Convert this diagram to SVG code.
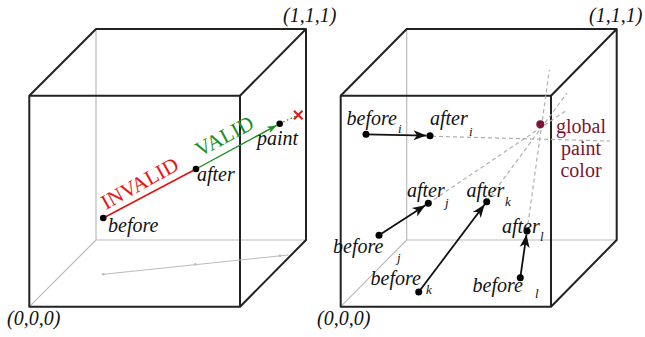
<svg xmlns="http://www.w3.org/2000/svg" width="645" height="337" viewBox="0 0 645 337">
<defs>
<style>
.edge{stroke:#222;stroke-width:2;fill:none;stroke-linejoin:round}
.hid{stroke:#bbb;stroke-width:1.2;fill:none}
.lbl{font-family:"Liberation Serif",serif;font-style:italic;font-size:20px;fill:#111}
.sub{font-family:"Liberation Serif",serif;font-style:italic;font-size:13px;fill:#111}
.ray{stroke:#b0b0b0;stroke-width:1.2;stroke-dasharray:4 3;fill:none}
.arr{stroke:#111;stroke-width:1.8;fill:none}
.dot{fill:#000}
</style>
<marker id="ah" markerUnits="userSpaceOnUse" markerWidth="14" markerHeight="12" refX="13" refY="5" orient="auto" viewBox="0 0 14 10">
<path d="M0,0 L13,5 L0,10 L3.5,5 Z" fill="#111"/>
</marker>
<marker id="ahg" markerUnits="userSpaceOnUse" markerWidth="10" markerHeight="8" refX="9.5" refY="3.5" orient="auto" viewBox="0 0 10 7">
<path d="M0,0 L9.5,3.5 L0,7 L2.5,3.5 Z" fill="#1a8f1a"/>
</marker>
</defs>

<g id="left-cube">
<line class="hid" x1="96" y1="29" x2="96" y2="240"/>
<line class="hid" x1="96" y1="240" x2="306" y2="240"/>
<line class="hid" x1="96" y1="240" x2="29.3" y2="306.7"/>
<path class="edge" d="M29.3,95.7 L240,95.7 L240,306.7 L29.3,306.7 Z"/>
<path class="edge" d="M29.3,95.7 L96,29 L306,29 L240,95.7 M306,29 L306,240 L240,306.7"/>
<text class="lbl" x="283" y="22">(1,1,1)</text>
<text class="lbl" x="7" y="325">(0,0,0)</text>
</g>

<g id="left-floor-projection">
<line x1="103.3" y1="274.3" x2="288.3" y2="255" stroke="#bbb" stroke-width="1"/>
<circle cx="103.3" cy="274.3" r="1.3" fill="#bbb"/>
<circle cx="195.3" cy="264.3" r="1.3" fill="#bbb"/>
<circle cx="280" cy="255.7" r="1.3" fill="#bbb"/>
</g>

<g id="left-connectors">
<line x1="103.3" y1="218" x2="196" y2="169" stroke="#e0130f" stroke-width="1.6"/>
<line x1="196" y1="169" x2="276.6" y2="125.4" stroke="#1a8f1a" stroke-width="1.4" marker-end="url(#ahg)"/>
<line x1="279.7" y1="123.7" x2="296" y2="116" stroke="#1a8f1a" stroke-width="1.3" stroke-dasharray="1.5 2.5"/>
</g>

<g id="node-before">
<circle class="dot" cx="103.3" cy="218" r="3.3"/>
<text class="lbl" x="108" y="232">before</text>
</g>
<g id="node-after">
<circle class="dot" cx="196" cy="169" r="3.3"/>
<text class="lbl" x="197" y="181">after</text>
</g>
<g id="node-paint">
<circle class="dot" cx="279.7" cy="123.7" r="3.3"/>
<text class="lbl" x="257" y="145">paint</text>
</g>
<g id="node-x">
<path d="M294,110.7 L302.5,119.3 M302.5,110.7 L294,119.3" stroke="#ee1111" stroke-width="2"/>
</g>
<g id="label-invalid">
<text transform="translate(106,210) rotate(-29)" font-family="Liberation Serif, serif" font-size="21" fill="#ee1111">INVALID</text>
</g>
<g id="label-valid">
<text transform="translate(200,157) rotate(-28)" font-family="Liberation Serif, serif" font-size="21" fill="#1a8f1a">VALID</text>
</g>

<g id="right-cube">
<line class="hid" x1="406.7" y1="29" x2="406.7" y2="240"/>
<line class="hid" x1="406.7" y1="240" x2="616.7" y2="240"/>
<line class="hid" x1="406.7" y1="240" x2="340.7" y2="306.7"/>
<path class="edge" d="M340.7,95.7 L551,95.7 L551,306.7 L340.7,306.7 Z"/>
<path class="edge" d="M340.7,95.7 L406.7,29 L616.7,29 L551,95.7 M616.7,29 L616.7,240 L551,306.7"/>
<text class="lbl" x="589" y="22">(1,1,1)</text>
<text class="lbl" x="317" y="325">(0,0,0)</text>
</g>

<g id="rays">
<line class="ray" x1="432" y1="136.3" x2="610" y2="141"/>
<line class="ray" x1="428.3" y1="203.3" x2="567" y2="110"/>
<line class="ray" x1="486.7" y1="201.7" x2="567" y2="93"/>
<line class="ray" x1="527" y1="231" x2="549.3" y2="70"/>
</g>

<g id="right-connectors">
<line class="arr" x1="366" y1="134.3" x2="426.5" y2="135.6" marker-end="url(#ah)"/>
<line class="arr" x1="379" y1="235.3" x2="425.4" y2="205.2" marker-end="url(#ah)"/>
<line class="arr" x1="418.7" y1="292" x2="484.6" y2="204.5" marker-end="url(#ah)"/>
<line class="arr" x1="520.3" y1="277.7" x2="526.5" y2="234.5" marker-end="url(#ah)"/>
</g>

<g id="node-before-i">
<circle class="dot" cx="366" cy="134.3" r="3.5"/>
<text class="lbl" x="346.5" y="125">before</text><text class="sub" x="398" y="133">i</text>
</g>
<g id="node-after-i">
<circle class="dot" cx="430" cy="135.7" r="3.5"/>
<text class="lbl" x="430" y="125">after</text><text class="sub" x="469" y="136">i</text>
</g>
<g id="node-before-j">
<circle class="dot" cx="379" cy="235.3" r="3.5"/>
<text class="lbl" x="333" y="253">before</text><text class="sub" x="397" y="262">j</text>
</g>
<g id="node-after-j">
<circle class="dot" cx="428.3" cy="203.3" r="3.5"/>
<text class="lbl" x="407" y="197">after</text><text class="sub" x="445" y="207">j</text>
</g>
<g id="node-before-k">
<circle class="dot" cx="418.7" cy="292" r="3.5"/>
<text class="lbl" x="370.5" y="285">before</text><text class="sub" x="426" y="294">k</text>
</g>
<g id="node-after-k">
<circle class="dot" cx="486.7" cy="201.7" r="3.5"/>
<text class="lbl" x="466.5" y="197">after</text><text class="sub" x="505" y="206">k</text>
</g>
<g id="node-before-l">
<circle class="dot" cx="520.3" cy="277.7" r="3.5"/>
<text class="lbl" x="472.5" y="292">before</text><text class="sub" x="535" y="298">l</text>
</g>
<g id="node-after-l">
<circle class="dot" cx="527" cy="231" r="3.5"/>
<text class="lbl" x="502" y="233">after</text><text class="sub" x="540" y="241">l</text>
</g>
<g id="node-global-paint">
<circle cx="540.3" cy="124.3" r="4" fill="#7a1535"/>
<text font-family="Liberation Serif, serif" font-size="20" fill="#7a1535" text-anchor="middle"><tspan x="581" y="133">global</tspan><tspan x="581" y="155">paint</tspan><tspan x="581" y="177">color</tspan></text>
</g>
</svg>
